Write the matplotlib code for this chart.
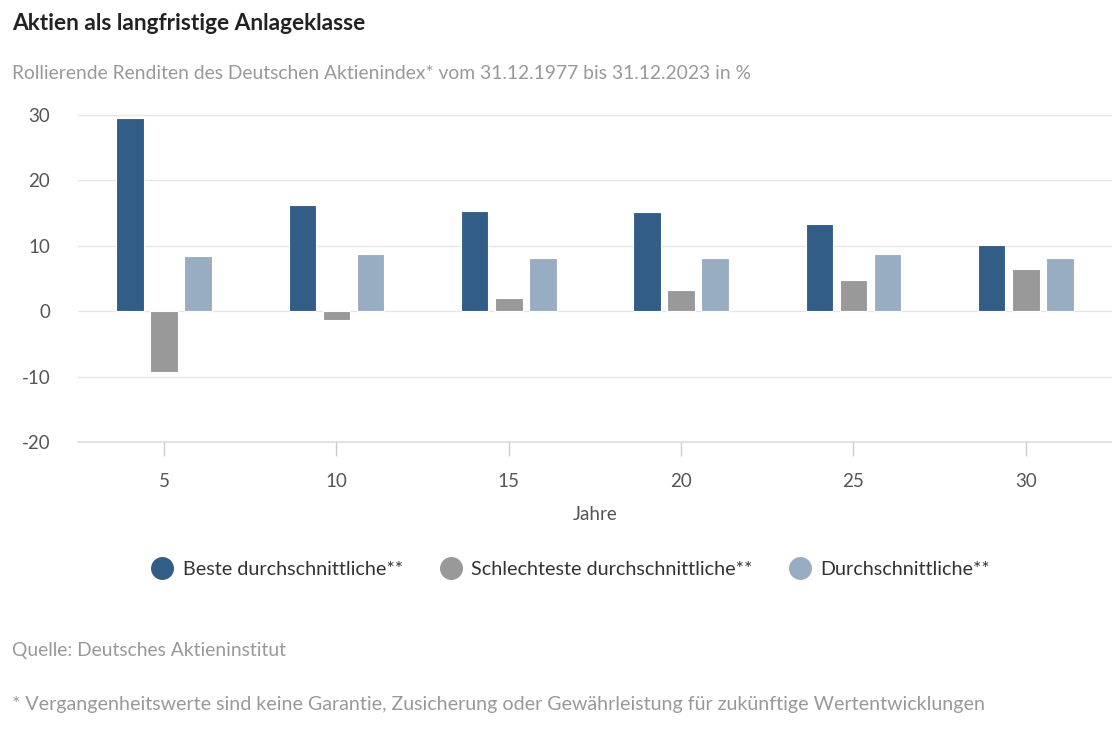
import matplotlib.pyplot as plt
import numpy as np

# Rollierende Renditen DAX
jahre = ['5', '10', '15', '20', '25', '30']
beste = [29.5, 16.2, 15.3, 15.1, 13.3, 10.1]
schlechteste = [-9.3, -1.3, 2.0, 3.3, 4.8, 6.5]
durchschnitt = [8.5, 8.7, 8.2, 8.2, 8.7, 8.2]

serien = ['Beste durchschnittliche**', 'Schlechteste durchschnittliche**', 'Durchschnittliche**']
farben = ['#325d87', '#999999', '#99adc2']

plt.rcParams['font.family'] = ['Lato', 'DejaVu Sans']
plt.rcParams['axes.unicode_minus'] = False

fig = plt.figure(figsize=(11.12, 7.29), dpi=100)
ax = fig.add_axes([0.0701, 0.3937, 0.9299, 0.4485])

x = np.arange(len(jahre))
breite = 0.16
abstand = 0.198
for i, (werte, name, farbe) in enumerate(zip([beste, schlechteste, durchschnitt], serien, farben)):
    ax.bar(x + (i - 1) * abstand, werte, width=breite, color=farbe,
           edgecolor='white', linewidth=0.8, label=name, zorder=3)

ax.set_xlim(-0.5, len(jahre) - 0.5)
ax.set_ylim(-20, 30)
ax.set_yticks([-20, -10, 0, 10, 20, 30])
ax.set_xticks(x)
ax.set_xticklabels(jahre)
ax.grid(axis='y', color='#e6e6e6', linewidth=1, zorder=0)
ax.axhline(-20, color='#dddddd', linewidth=1.2, zorder=1, clip_on=False)
for s in ax.spines.values():
    s.set_visible(False)
ax.tick_params(axis='y', length=0, pad=20, labelsize=13.5, labelcolor='#555555')
ax.tick_params(axis='x', length=10, width=1, color='#cccccc', pad=12,
               labelsize=13.5, labelcolor='#555555')
ax.set_xlabel('Jahre', fontsize=13.5, color='#555555', labelpad=12)

fig.text(0.011, 0.968, 'Aktien als langfristige Anlageklasse', fontsize=16.3,
         fontweight='bold', color='#222222', va='center')
fig.text(0.011, 0.899, 'Rollierende Renditen des Deutschen Aktienindex* vom 31.12.1977 bis 31.12.2023 in %',
         fontsize=13.9, color='#999999', va='center')

handles = [plt.Line2D([], [], marker='o', linestyle='', markersize=15.5, color=f) for f in farben]
fig.legend(handles, serien, loc='center', bbox_to_anchor=(0.513, 0.219), ncol=3,
           frameon=False, fontsize=14.2, labelcolor='#333333', handletextpad=0.45,
           columnspacing=1.8, handlelength=1.2)

fig.text(0.011, 0.107, 'Quelle: Deutsches Aktieninstitut', fontsize=13.9, color='#999999', va='center')
fig.text(0.011, 0.034, '* Vergangenheitswerte sind keine Garantie, Zusicherung oder Gewährleistung für zukünftige Wertentwicklungen',
         fontsize=14.1, color='#999999', va='center')

fig.savefig('out.png', dpi=100)
